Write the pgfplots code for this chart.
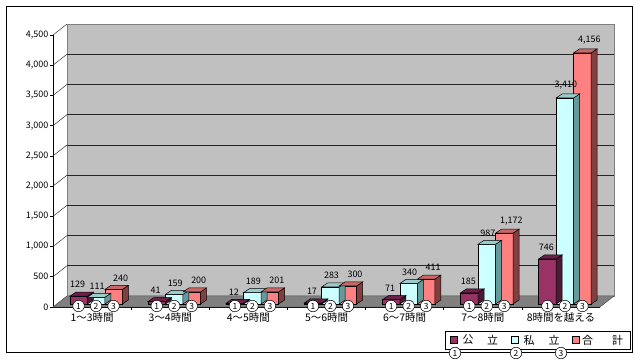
\documentclass[border=0pt]{standalone}
\usepackage{pgfplots}
\usepackage{pgfplotstable}
\pgfplotsset{compat=1.18}
\usepackage{fontspec}
\setmainfont{Noto Sans CJK JP}
\definecolor{pubF}{HTML}{993366}
\definecolor{pubT}{HTML}{6B1F4A}
\definecolor{pubS}{HTML}{4D1933}
\definecolor{priF}{HTML}{CCFFFF}
\definecolor{priT}{HTML}{99CCCC}
\definecolor{priS}{HTML}{669999}
\definecolor{totF}{HTML}{FF8080}
\definecolor{totT}{HTML}{CC6666}
\definecolor{totS}{HTML}{804040}
\definecolor{wallc}{HTML}{C0C0C0}
\definecolor{floorc}{HTML}{808080}

% 3D top and side faces of a bar, drawn at the bar's top centre
\newcommand\boxmark[3]{%
\pgfdeclareplotmark{#1}{%
  \pgfmathsetmacro\hb{-(\myval/4500)*272}%
  \pgfmathsetmacro\hc{4-(\myval/4500)*272}%
  \filldraw[fill=#3,draw=black,line width=0.5bp] (8.75bp,0bp) -- (14.75bp,4bp) -- (14.75bp,\hc bp) -- (8.75bp,\hb bp) -- cycle;
  \filldraw[fill=#2,draw=black,line width=0.5bp] (-8.75bp,0bp) -- (8.75bp,0bp) -- (14.75bp,4bp) -- (-2.75bp,4bp) -- cycle;
}}
% value label above a bar
\newcommand\labelmark[2]{%
\pgfdeclareplotmark{#1}{%
  \node[anchor=south, inner sep=0pt, font=\fontsize{9}{10}\selectfont] at (#2,8bp) {\pgfmathprintnumber{\myval}};
}}
\boxmark{boxA}{pubT}{pubS}
\boxmark{boxB}{priT}{priS}
\boxmark{boxC}{totT}{totS}
\labelmark{labA}{-1bp}
\labelmark{labB}{1bp}
\labelmark{labC}{7bp}

\pgfplotstableread{
x pub pri tot
1 129 111 240
2 41 159 200
3 12 189 201
4 17 283 300
5 71 340 411
6 185 987 1172
7 746 3410 4156
}\data

\begin{document}
\begin{tikzpicture}
\path[fill=white] (0,0) rectangle (635bp,360bp);
\draw[line width=1bp] (6bp,7bp) rectangle (632bp,353bp);
\begin{axis}[
  at={(53bp,53bp)}, anchor=south west,
  scale only axis, width=547bp, height=272bp,
  xmin=0.5, xmax=7.5, ymin=0, ymax=4500,
  clip=false,
  axis x line*=bottom, axis y line*=left,
  axis line style={black, line width=0.6bp},
  ytick={0,500,...,4500},
  xtick={1.5,2.5,...,6.5}, xticklabels={},
  extra x ticks={1,2,3,4,5,6,7},
  extra x tick labels={1〜3時間,3〜4時間,4〜5時間,5〜6時間,6〜7時間,7〜8時間,8時間を越える},
  extra x tick style={major tick length=0pt},
  tick align=outside, major tick length=3bp,
  tick style={black, line width=0.6bp},
  /pgf/number format/1000 sep={,},
  /pgf/number format/assume math mode=true,
  yticklabel style={font=\fontsize{9}{10}\selectfont, inner sep=1.5bp},
  xticklabel style={font=\fontsize{10.5}{12}\selectfont, inner sep=1bp, yshift=-4.5bp},
]
% back wall, floor, grid
\fill[wallc] ([shift={(14bp,11bp)}]axis cs:0.5,0) rectangle ([shift={(14bp,11bp)}]axis cs:7.5,4500);
\draw[floorc, line width=0.6bp] ([shift={(14bp,11bp)}]axis cs:0.5,0) rectangle ([shift={(14bp,11bp)}]axis cs:7.5,4500);
\pgfplotsinvokeforeach{500,1000,...,4000}{
  \draw[black!85, line width=0.6bp] ([shift={(14bp,11bp)}]axis cs:0.5,#1) -- ([shift={(14bp,11bp)}]axis cs:7.5,#1);
}
\pgfplotsinvokeforeach{500,1000,...,4500}{
  \draw[black!80, line width=0.5bp] (axis cs:0.5,#1) -- ([shift={(14bp,11bp)}]axis cs:0.5,#1);
}
\filldraw[fill=floorc, draw=black!70, line width=0.5bp] (axis cs:0.5,0) -- (axis cs:7.5,0) -- ([shift={(14bp,11bp)}]axis cs:7.5,0) -- ([shift={(14bp,11bp)}]axis cs:0.5,0) -- cycle;

% series 1 (public)
\addplot[scatter, only marks, mark=boxA, xshift=-13.5bp, yshift=3bp,
  visualization depends on={rawy \as \myval}] table[x=x, y=pub] \data;
\addplot[ybar, bar width=17.5bp, bar shift=-13.5bp, fill=pubF, draw=black, line width=0.5bp, yshift=3bp] table[x=x, y=pub] \data;
% series 2 (private)
\addplot[scatter, only marks, mark=boxB, xshift=4bp, yshift=3bp,
  visualization depends on={rawy \as \myval}] table[x=x, y=pri] \data;
\addplot[ybar, bar width=17.5bp, bar shift=4bp, fill=priF, draw=black, line width=0.5bp, yshift=3bp] table[x=x, y=pri] \data;
% series 3 (total)
\addplot[scatter, only marks, mark=boxC, xshift=21.5bp, yshift=3bp,
  visualization depends on={rawy \as \myval}] table[x=x, y=tot] \data;
\addplot[ybar, bar width=17.5bp, bar shift=21.5bp, fill=totF, draw=black, line width=0.5bp, yshift=3bp] table[x=x, y=tot] \data;

% value labels on top
\addplot[scatter, only marks, mark=labA, xshift=-13.5bp, yshift=3bp,
  visualization depends on={rawy \as \myval}] table[x=x, y=pub] \data;
\addplot[scatter, only marks, mark=labB, xshift=4bp, yshift=3bp,
  visualization depends on={rawy \as \myval}] table[x=x, y=pri] \data;
\addplot[scatter, only marks, mark=labC, xshift=21.5bp, yshift=3bp,
  visualization depends on={rawy \as \myval}] table[x=x, y=tot] \data;

% circled numbers
\addplot[only marks, mark=*, mark size=5.75bp, mark options={fill=white, draw=black, line width=0.5bp},
  xshift=-13.5bp, yshift=1bp, nodes near coords={1},
  nodes near coords style={anchor=center, inner sep=0pt, font=\fontsize{8.5}{9}\selectfont}]
  coordinates {(1,0)(2,0)(3,0)(4,0)(5,0)(6,0)(7,0)};
\addplot[only marks, mark=*, mark size=5.75bp, mark options={fill=white, draw=black, line width=0.5bp},
  xshift=4bp, yshift=1bp, nodes near coords={2},
  nodes near coords style={anchor=center, inner sep=0pt, font=\fontsize{8.5}{9}\selectfont}]
  coordinates {(1,0)(2,0)(3,0)(4,0)(5,0)(6,0)(7,0)};
\addplot[only marks, mark=*, mark size=5.75bp, mark options={fill=white, draw=black, line width=0.5bp},
  xshift=21.5bp, yshift=1bp, nodes near coords={3},
  nodes near coords style={anchor=center, inner sep=0pt, font=\fontsize{8.5}{9}\selectfont}]
  coordinates {(1,0)(2,0)(3,0)(4,0)(5,0)(6,0)(7,0)};
\end{axis}
% legend
\draw[fill=white, line width=0.8bp] (445bp,11bp) rectangle (630bp,29bp);
\filldraw[fill=pubF, draw=black, line width=0.4bp] (450.5bp,16.5bp) rectangle (457.5bp,23.5bp);
\filldraw[fill=priF, draw=black, line width=0.4bp] (511.5bp,16.5bp) rectangle (518.5bp,23.5bp);
\filldraw[fill=totF, draw=black, line width=0.4bp] (572bp,16.5bp) rectangle (579bp,23.5bp);
\begin{scope}[every node/.style={font=\fontsize{11}{12}\selectfont, inner sep=0pt}]
\node at (468bp,20bp) {公};
\node at (492.5bp,20bp) {立};
\node at (529bp,20bp) {私};
\node at (554bp,20bp) {立};
\node at (587.5bp,20bp) {合};
\node at (617.5bp,20bp) {計};
\end{scope}
\begin{scope}[every node/.style={circle, draw, fill=white, line width=0.5bp, inner sep=0pt, minimum size=11.5bp, font=\fontsize{8.5}{9}\selectfont}]
\node at (455bp,7bp) {1};
\node at (516bp,7bp) {2};
\node at (561bp,7bp) {3};
\end{scope}
\end{tikzpicture}
\end{document}
